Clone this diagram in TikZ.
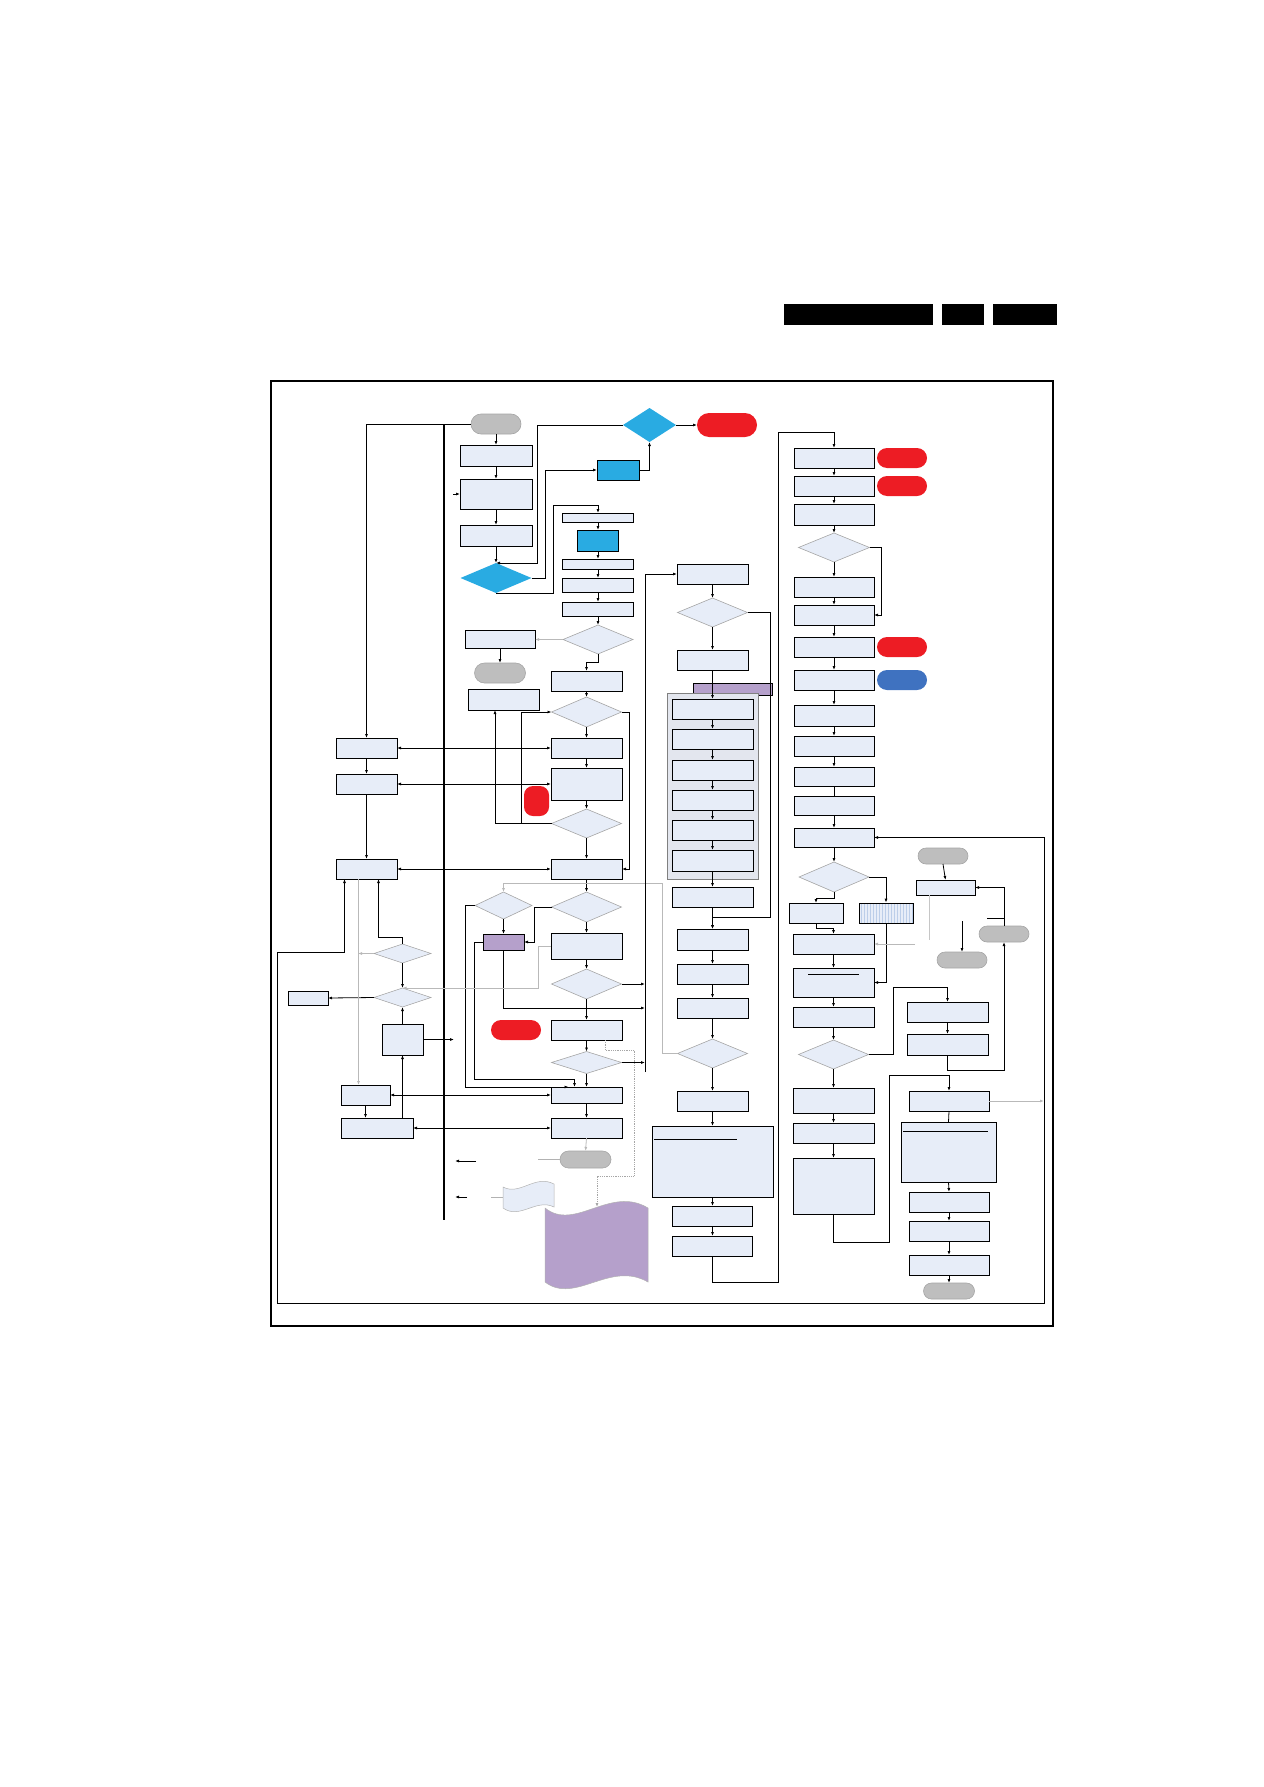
\documentclass[tikz,border=0pt]{standalone}
\usetikzlibrary{arrows.meta,shapes.geometric,shapes.misc,patterns}

\definecolor{boxfill}{RGB}{231,237,248}
\definecolor{diaedge}{RGB}{165,165,165}
\definecolor{cyanblue}{RGB}{41,171,226}
\definecolor{stopred}{RGB}{237,28,36}
\definecolor{runblue}{RGB}{63,114,192}
\definecolor{termgray}{RGB}{190,190,190}
\definecolor{lilac}{RGB}{181,160,203}
\definecolor{grpfill}{RGB}{227,230,238}

\begin{document}
\begin{tikzpicture}[
  x=1pt, y=-1pt,
  sz/.style 2 args={minimum width=#1, minimum height=#2},
  box/.style={draw, fill=boxfill, line width=0.8pt, inner sep=0pt, outer sep=0pt},
  bluebox/.style={draw, fill=cyanblue, line width=0.8pt, inner sep=0pt, outer sep=0pt},
  lilacbox/.style={draw, fill=lilac, line width=0.8pt, inner sep=0pt, outer sep=0pt},
  dec/.style={diamond, draw=diaedge, fill=boxfill, line width=0.6pt, inner sep=0pt, outer sep=0pt},
  bdec/.style={diamond, fill=cyanblue, inner sep=0pt, outer sep=0pt},
  term/.style={rounded rectangle, draw=diaedge, fill=termgray, line width=0.6pt, inner sep=0pt, outer sep=0pt},
  redterm/.style={rounded rectangle, fill=stopred, inner sep=0pt, outer sep=0pt},
  blueterm/.style={rounded rectangle, fill=runblue, inner sep=0pt, outer sep=0pt},
  flow/.style={-{Latex[length=4pt,width=3pt]}, line width=0.8pt},
  dflow/.style={{Latex[length=4pt,width=3pt]}-{Latex[length=4pt,width=3pt]}, line width=0.8pt},
  gflow/.style={-{Latex[length=4pt,width=3pt]}, line width=0.8pt, draw=gray!55},
  dotflow/.style={-{Latex[length=4pt,width=3pt]}, line width=0.8pt, densely dotted, draw=gray!70}
]
\useasboundingbox (0,0) rectangle (1263,1787);

% Header bars and frame
\fill (784,304) rectangle (933,325);
\fill (942,304) rectangle (984,325);
\fill (993,304) rectangle (1057,325);
\draw[line width=1.3pt] (271,381) rectangle (1053,1326);
\draw[line width=1.4pt] (444,425) -- (444,1220);

% Start column
\node[term, sz={50}{20}] (start) at (496,424) {};
\node[box, sz={72}{21}] (b1) at (496,455.5) {};
\node[box, sz={72}{30}] (b2) at (496,494) {};
\node[box, sz={72}{21}] (b3) at (496,535.5) {};
\node[bdec, sz={71}{30}] (d1) at (496,578) {};
\node[bdec, sz={53}{34}] (d0) at (649.5,425) {};
\node[redterm, sz={60}{24}] (e0) at (727,425) {};
\node[bluebox, sz={42}{20}] (bb1) at (618,470) {};

% Second column
\node[box, sz={71}{9}] (a1) at (598,517.5) {};
\node[bluebox, sz={41}{21}] (bb2) at (598,540.5) {};
\node[box, sz={71}{10}] (a2) at (598,564) {};
\node[box, sz={71}{14}] (a3) at (598,585) {};
\node[box, sz={71}{14}] (a4) at (598,609) {};
\node[dec, sz={70}{29}] (dg1) at (598,639.5) {};
\node[box, sz={70}{18}] (e1) at (500,639.5) {};
\node[term, sz={51}{20}] (t2) at (500,673) {};
\node[box, sz={71}{21}] (f1) at (503.5,699.5) {};

% Middle column
\node[box, sz={71}{20}] (g) at (586.5,681) {};
\node[dec, sz={70}{30}] (dh) at (586.5,712) {};
\node[box, sz={71}{20}] (i1) at (586.5,748) {};
\node[box, sz={71}{32}] (i2) at (586.5,784) {};
\node[dec, sz={70}{29}] (dk) at (586.5,823.5) {};
\node[box, sz={71}{20}] (i3) at (586.5,869) {};
\node[dec, sz={70}{30}] (dk2) at (586.5,907) {};
\node[box, sz={71}{26}] (i4) at (586.5,946) {};
\node[dec, sz={70}{30}] (dk3) at (586.5,984) {};
\node[box, sz={71}{20}] (i5) at (586.5,1030) {};
\node[dec, sz={70}{22}] (dk4) at (586.5,1062.5) {};
\node[box, sz={71}{16}] (i6) at (586.5,1095) {};
\node[box, sz={71}{20}] (i7) at (586.5,1128) {};
\node[draw=none, fill=stopred, rounded corners=9pt, sz={25}{30}, inner sep=0pt] (rt1) at (536.5,801) {};
\node[redterm, sz={50}{20}] (rt2) at (516,1030) {};
\node[dec, sz={57}{27}] (dk1) at (503.5,905.5) {};
\node[lilacbox, sz={41}{16}] (pp) at (503.5,942) {};
\node[term, sz={51}{17}] (z) at (585.5,1159.5) {};

% Left column
\node[box, sz={61}{20}] (j1) at (366.5,748) {};
\node[box, sz={61}{20}] (j2) at (366.5,784) {};
\node[box, sz={61}{20}] (j3) at (366.5,869) {};
\node[dec, sz={57}{19}] (dl1) at (402.5,953.5) {};
\node[dec, sz={57}{19}] (dl2) at (402.5,997.5) {};
\node[box, sz={40}{14}] (p) at (308,998) {};
\node[box, sz={41}{31}] (o) at (402.5,1039.5) {};
\node[box, sz={49}{20}] (l4) at (365.5,1095) {};
\node[box, sz={72}{20}] (l5) at (377,1128) {};

% Documents at the bottom
\draw[draw=gray!60, fill=boxfill, line width=0.5pt] (503,1187) .. controls (520,1196) and (535,1174) .. (554,1184)
  -- (554,1207) .. controls (536,1198) and (520,1220) .. (503,1208) -- cycle;
\draw[draw=gray!60, fill=lilac, line width=0.5pt] (545,1208) .. controls (575,1232) and (610,1185) .. (648,1208)
  -- (648,1282) .. controls (610,1260) and (575,1305) .. (545,1282) -- cycle;

% Group column
\node[box, sz={71}{20}] (m1) at (712.5,574) {};
\node[dec, sz={70}{29}] (dm) at (712.5,612.5) {};
\node[box, sz={71}{20}] (m2) at (712.5,660) {};
\node[lilacbox, sz={79}{12}] (pbar) at (732.5,689) {};
\node[draw=gray, fill=grpfill, line width=0.7pt, inner sep=0pt, sz={91}{186}] (grp) at (712.5,786) {};
\node[box, sz={81}{20}] (gb1) at (712.5,709) {};
\node[box, sz={81}{20}] (gb2) at (712.5,739) {};
\node[box, sz={81}{20}] (gb3) at (712.5,770) {};
\node[box, sz={81}{20}] (gb4) at (712.5,800) {};
\node[box, sz={81}{20}] (gb5) at (712.5,830) {};
\node[box, sz={81}{21}] (gb6) at (712.5,860.5) {};
\node[box, sz={81}{20}] (m3) at (712.5,897) {};
\node[box, sz={71}{21}] (n1) at (712.5,939.5) {};
\node[box, sz={71}{20}] (n2) at (712.5,974) {};
\node[box, sz={71}{20}] (n3) at (712.5,1008) {};
\node[dec, sz={70}{29}] (dn) at (712.5,1053.5) {};
\node[box, sz={71}{20}] (n4) at (712.5,1101) {};
\node[box, sz={121}{71}] (n5) at (712.5,1161.5) {};
\node[box, sz={80}{20}] (n6) at (712.5,1216) {};
\node[box, sz={80}{20}] (n7) at (712.5,1246) {};
\draw[line width=0.8pt] ([shift={(2,13)}]n5.north west) -- ++(83,0);

% Right column
\node[box, sz={80}{20}] (r1) at (834,458) {};
\node[box, sz={80}{20}] (r2) at (834,486) {};
\node[box, sz={80}{21}] (r3) at (834,514.5) {};
\node[dec, sz={71}{29}] (dr) at (834,547.5) {};
\node[box, sz={80}{20}] (r4) at (834,587) {};
\node[box, sz={80}{20}] (r5) at (834,615) {};
\node[box, sz={80}{20}] (r6) at (834,647) {};
\node[box, sz={80}{20}] (r7) at (834,680) {};
\node[box, sz={80}{21}] (r8) at (834,715.5) {};
\node[box, sz={80}{20}] (r9) at (834,746) {};
\node[box, sz={80}{19}] (r10) at (834,776.5) {};
\node[box, sz={80}{19}] (r11) at (834,805.5) {};
\node[box, sz={80}{19}] (r12) at (834,837.5) {};
\node[redterm, sz={50}{20}] (rr1) at (902,458) {};
\node[redterm, sz={50}{20}] (rr2) at (902,486) {};
\node[redterm, sz={50}{20}] (rr6) at (902,647) {};
\node[blueterm, sz={50}{20}] (bt7) at (902,680) {};
\node[dec, sz={70}{30}] (ds) at (834,877) {};
\node[box, sz={54}{20}] (s1) at (816,913) {};
\node[draw, line width=0.8pt, inner sep=0pt, sz={54}{20}, preaction={fill=boxfill},
  pattern=vertical lines, pattern color=runblue!35] (s2) at (886,913) {};
\node[box, sz={81}{20}] (s3) at (833.5,944) {};
\node[box, sz={81}{29}] (s4) at (833.5,982.5) {};
\node[box, sz={81}{20}] (s5) at (833.5,1017) {};
\node[dec, sz={70}{29}] (dt) at (833.5,1054.5) {};
\node[box, sz={81}{25}] (s6) at (833.5,1100.5) {};
\node[box, sz={81}{20}] (s7) at (833.5,1133) {};
\node[box, sz={81}{56}] (s8) at (833.5,1186) {};
\draw[line width=0.8pt] ([shift={(15,6)}]s4.north west) -- ++(51,0);

% Far right column
\node[term, sz={50}{16}] (tg1) at (943,856) {};
\node[box, sz={59}{15}] (w) at (945.5,887.5) {};
\node[term, sz={50}{16}] (tv) at (1004,934) {};
\node[term, sz={50}{16}] (tx) at (962,960) {};
\node[box, sz={81}{20}] (u1) at (947.5,1012) {};
\node[box, sz={81}{21}] (u2) at (947.5,1044.5) {};
\node[box, sz={80}{20}] (y1) at (949,1101) {};
\node[box, sz={95}{60}] (y2) at (948.5,1152) {};
\node[box, sz={80}{20}] (y3) at (949,1202) {};
\node[box, sz={80}{20}] (y4) at (949,1231) {};
\node[box, sz={80}{20}] (y5) at (949,1265) {};
\node[term, sz={51}{16}] (tend) at (949,1291) {};
\draw[line width=0.8pt] ([shift={(2,9)}]y2.north west) -- ++(85,0);

\coordinate (bus) at (645,1072);

% Start flow
\draw[flow] (start.west) -| (j1.north);
\draw[flow] (start.south) -- (b1.north);
\draw[flow] (b1.south) -- (b2.north);
\draw[flow] (b2.south) -- (b3.north);
\draw[flow] (b3.south) -- (d1.north);
\draw[flow] ([xshift=-7pt]b2.west) -- (b2.west);
\draw[flow] (d0.west) -| (537,563) -- (d1.north);
\draw[flow] (d1.east) -- ++(14,0) |- (bb1.west);
\draw[flow] (bb1.east) -| (d0.south);
\draw[flow] (d0.east) -- (e0.west);
\draw[flow] (d1.south) -| (553,505) -| (a1.north);
\draw[flow] (a1.south) -- (bb2.north);
\draw[flow] (bb2.south) -- (a2.north);
\draw[flow] (a2.south) -- (a3.north);
\draw[flow] (a3.south) -- (a4.north);
\draw[flow] (a4.south) -- (dg1.north);
\draw[gflow] (dg1.west) -- (e1.east);
\draw[flow] (e1.south) -- (t2.north);
\draw[flow] (dg1.south) -- ++(0,8) -| (g.north);

% Middle flow
\draw[flow] (g.south) -- (dh.north);
\draw[flow] (dh.south) -- (i1.north);
\draw[flow] (i1.south) -- (i2.north);
\draw[flow] (i2.south) -- (dk.north);
\draw[flow] (dk.south) -- (i3.north);
\draw[flow] (i3.south) -- (dk2.north);
\draw[flow] (dk2.south) -- (i4.north);
\draw[flow] (i4.south) -- (dk3.north);
\draw[flow] (dk3.south) -- (i5.north);
\draw[flow] (i5.south) -- (dk4.north);
\draw[flow] (dk4.south) -- (i6.north);
\draw[flow] (i6.south) -- (i7.north);
\draw[flow] (dk.west) -| ([xshift=-8.5pt]f1.south);
\draw[flow] (dk.west) -- ++(-30,0) |- (dh.west);
\draw[flow] (dh.east) -- ++(8,0) |- (i3.east);
\draw[dflow] (j1.east) -- (i1.west);
\draw[dflow] (j2.east) -- (i2.west);
\draw[dflow] (j3.east) -- (i3.west);
\draw[flow] (j1.south) -- (j2.north);
\draw[flow] (j2.south) -- (j3.north);
\draw[gflow] (dn.west) -- ++(-15,0) |- (503.5,883) -- (dk1.north);
\draw[flow] (dk1.south) -- (pp.north);
\draw[flow] (dk2.west) -- ++(-17,0) |- (pp.east);
\draw[flow] (dk1.west) -- ++(-10,0) |- ([xshift=-18pt]i6.north);
\draw[flow] (pp.west) -- ++(-9,0) |- (574.5,1079) -- ([xshift=-12pt]i6.north);
\draw[flow] (pp.south) |- (bus |- 0,1008);
\draw[flow] (dk3.east) -- (dk3.east -| bus);
\draw[flow] (dk4.east) -- (dk4.east -| bus);
\draw[flow] (bus) |- (m1.west);
\draw[dotflow] ([xshift=18.5pt]i5.south) -- ++(0,10) -| (634,1176) -| (597,1207);

% Left flow
\draw[gflow] (i4.west) -- ++(-13,0) |- (dl2.north);
\draw[flow] (dl1.south) -- (dl2.north);
\draw[flow] (dl1.north) -- ++(0,-7) -| ([xshift=12pt]j3.south);
\draw[gflow] (dl1.west) -- ++(-16,0);
\draw[flow] (dl2.west) -- (p.east);
\draw[flow] (o.north) -- (dl2.south);
\draw[flow] (o.east) -- ++(31,0);
\draw[flow] ([xshift=25.5pt]l5.north) -- (o.south);
\draw[dflow] (l4.east) -- (i6.west);
\draw[dflow] (l5.east) -- (i7.west);
\draw[flow] (l4.south) -- (l4.south |- l5.north);
\draw[gflow] ([xshift=-8pt]j3.south) -- ([xshift=-8pt]j3.south |- l4.north);
\draw[dflow] ([xshift=-22pt]j3.south) -- ++(0,73) -| (277,1303) -| (1044,837.5) -- (r12.east);
\draw[gflow] (i7.south) -- (z.north);
\draw[gray!60, line width=0.8pt] (z.west) -- ++(-22,0);
\draw[flow] (476,1161) -- (455,1161);
\draw[gray!60, line width=0.8pt] (491,1197) -- (503,1197);
\draw[flow] (467,1197) -- (455,1197);

% Group flow
\draw[flow] (m1.south) -- (dm.north);
\draw[flow] (dm.south) -- (m2.north);
\draw[flow] (m2.south) -- (gb1.north);
\draw[flow] (gb1.south) -- (gb2.north);
\draw[flow] (gb2.south) -- (gb3.north);
\draw[flow] (gb3.south) -- (gb4.north);
\draw[flow] (gb4.south) -- (gb5.north);
\draw[flow] (gb5.south) -- (gb6.north);
\draw[flow] (gb6.south) -- (m3.north);
\draw[flow] (m3.south) -- (n1.north);
\draw[flow] (dm.east) -- ++(23,0) |- (712.5,917) -- (n1.north);
\draw[flow] (n1.south) -- (n2.north);
\draw[flow] (n2.south) -- (n3.north);
\draw[flow] (n3.south) -- (dn.north);
\draw[flow] (dn.south) -- (n4.north);
\draw[flow] (n4.south) -- (n5.north);
\draw[flow] (n5.south) -- (n6.north);
\draw[flow] (n6.south) -- (n7.north);
\draw[flow] (n7.south) -- ++(0,26) -| (778,432) -| (r1.north);

% Right flow
\draw[flow] (r1.south) -- (r2.north);
\draw[flow] (r2.south) -- (r3.north);
\draw[flow] (r3.south) -- (dr.north);
\draw[flow] (dr.south) -- (r4.north);
\draw[flow] (r4.south) -- (r5.north);
\draw[flow] (r5.south) -- (r6.north);
\draw[flow] (r6.south) -- (r7.north);
\draw[flow] (r7.south) -- (r8.north);
\draw[flow] (r8.south) -- (r9.north);
\draw[flow] (r9.south) -- (r10.north);
\draw[line width=0.8pt] (r10.south) -- (r11.north);
\draw[flow] (r11.south) -- (r12.north);
\draw[flow] (r12.south) -- (ds.north);
\draw[flow] (dr.east) -- ++(12,0) |- (r5.east);
\draw[flow] (ds.south) -- ++(0,6) -| (s1.north);
\draw[flow] (ds.east) -| (s2.north);
\draw[flow] (s1.south) -- ++(0,5) -| (s3.north);
\draw[flow] (s2.south) |- (s4.east);
\draw[flow] (s3.south) -- (s4.north);
\draw[flow] (s4.south) -- (s5.north);
\draw[flow] (s5.south) -- (dt.north);
\draw[flow] (dt.south) -- (s6.north);
\draw[flow] (s6.south) -- (s7.north);
\draw[flow] (s7.south) -- (s8.north);
\draw[flow] (dt.east) -- ++(25,0) |- (947.5,987) -- (u1.north);
\draw[flow] (u1.south) -- (u2.north);
\draw[flow] (u2.south) -- ++(0,15) -| (tv.south);
\draw[flow] (tv.north) |- (w.east);
\draw[line width=0.8pt] (tv.north) ++(0,-8) -- ++(-17,0);
\draw[flow] (tg1.south) -- (w.north);
\draw[gray!45, line width=0.8pt] ([xshift=-16.5pt]w.south) -- ++(0,45);
\draw[flow] (tx.north) ++(0,-31) -- (tx.north);
\draw[gflow] (s3.east) ++(41,0) -- (s3.east);
\draw[flow] (s8.south) -- ++(0,28) -| (889,1075) -| (y1.north);
\draw[gflow] (y1.east) -- (1044,1101);
\draw[line width=0.8pt] (y1.south) -- (y2.north);
\draw[flow] (y2.south) -- (y3.north);
\draw[flow] (y3.south) -- (y4.north);
\draw[flow] (y4.south) -- (y5.north);
\draw[flow] (y5.south) -- (tend.north);

\end{tikzpicture}
\end{document}
